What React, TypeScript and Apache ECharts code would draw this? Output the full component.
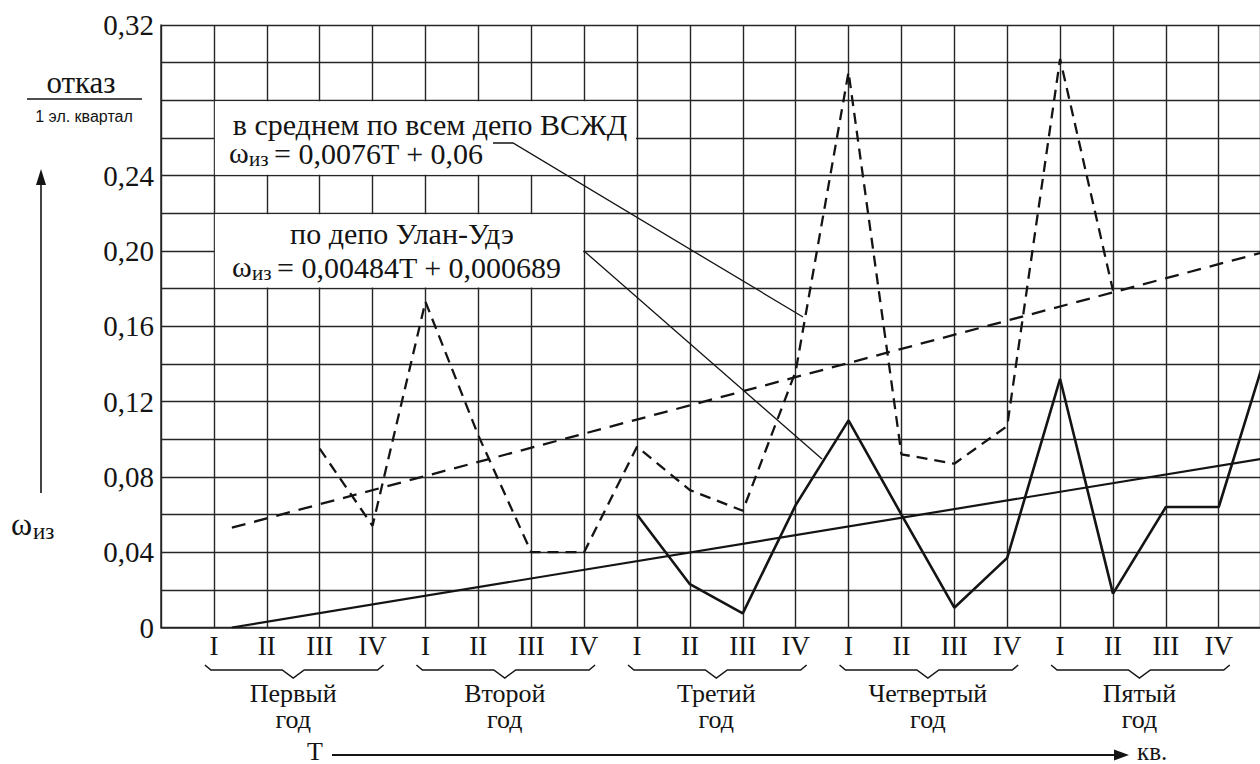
import React, { useEffect, useRef } from 'react';
import * as echarts from 'echarts';

// ---- tick labels / categories ----
const QUARTERS = ['I', 'II', 'III', 'IV'];
const YEARS = ['Первый', 'Второй', 'Третий', 'Четвертый', 'Пятый'];
const YEAR_WORD = 'год';
const Y_TICK_LABELS = [0, 0.04, 0.08, 0.12, 0.16, 0.2, 0.24, 0.32];

// ---- series: average over all VSZhD depots (dashed) ----
const VSZD_T = [3, 4, 5, 6, 7, 8, 9, 10, 11, 12, 13, 14, 15, 16, 17, 18];
const VSZD_VALUES = [0.095, 0.054, 0.173, 0.102, 0.04, 0.04, 0.096, 0.073, 0.062, 0.136, 0.295, 0.092, 0.087, 0.107, 0.302, 0.179];

// ---- series: Ulan-Ude depot (solid) ----
const UU_T = [9, 10, 11, 12, 13, 14, 15, 16, 17, 18, 19, 20, 21];
const UU_VALUES = [0.06, 0.023, 0.0075, 0.065, 0.11, 0.06, 0.0105, 0.037, 0.132, 0.018, 0.064, 0.064, 0.155];

// ---- trend lines ----
const VSZD_TREND_T = [1.34, 21];
const VSZD_TREND_VALUES = [0.053, 0.2005];
const UU_TREND_T = [1.34, 21];
const UU_TREND_VALUES = [0, 0.0905];

// ---- annotation texts ----
const NOTE1_LINE1 = 'в среднем по всем депо ВСЖД';
const NOTE1_EQ = '= 0,0076T + 0,06';
const NOTE2_LINE1 = 'по депо Улан-Удэ';
const NOTE2_EQ = '= 0,00484T + 0,000689';
const OMEGA = 'ω';
const SUB = 'из';
const Y_TITLE_TOP = 'отказ';
const Y_TITLE_BOTTOM = '1 эл. квартал';
const X_TITLE = 'T';
const X_UNIT = 'кв.';

// ---- layout ----
const W = 1260;
const H = 764;
const GRID_LEFT = 161;
const GRID_TOP = 25;
const GRID_BOTTOM_Y = 627.5;
const X_MAX = 20.78;
const Y_MAX = 0.32;

const SERIF = 'serif';
const SANS = 'sans-serif';
const INK = '#141414';

const px = (t: number) => GRID_LEFT + (t * (W - GRID_LEFT)) / X_MAX;
const py = (v: number) => GRID_BOTTOM_Y - (v * (GRID_BOTTOM_Y - GRID_TOP)) / Y_MAX;

const zip = (xs: number[], ys: number[]) => xs.map((x, i) => [x, ys[i]]);

function txt(text: string, x: number, y: number, size: number, align = 'left', family = SERIF): any {
  return {
    type: 'text',
    z: 110,
    style: {
      text,
      x,
      y: y - size * 0.5,
      fontSize: size,
      fontFamily: family,
      fill: INK,
      align,
    },
  };
}

function line(x1: number, y1: number, x2: number, y2: number, w = 1.4): any {
  return { type: 'line', z: 110, shape: { x1, y1, x2, y2 }, style: { stroke: INK, lineWidth: w } };
}

function poly(points: number[][], w = 1.4): any {
  return { type: 'polyline', z: 110, shape: { points }, style: { stroke: INK, lineWidth: w, fill: null } };
}

function buildGraphics(): any[] {
  const g: any[] = [];
  const box = (t1: number, t2: number, vTop: number, vBot: number) => ({
    type: 'rect',
    z: 100,
    shape: { x: px(t1) + 1, y: py(vTop) + 1, width: px(t2) - px(t1) - 2, height: py(vBot) - py(vTop) - 2 },
    style: { fill: '#ffffff' },
  });
  g.push(box(1, 9, 0.28, 0.24));
  g.push(box(1, 8, 0.22, 0.18));

  // note 1
  g.push(txt(NOTE1_LINE1, 430, 124, 30, 'center'));
  g.push(txt(OMEGA, 229, 152, 30));
  g.push(txt(SUB, 249, 159, 21));
  g.push(txt(NOTE1_EQ, 274, 153, 30));
  g.push(poly([[493, 143], [513, 143], [803, 317]], 1.3));

  // note 2
  g.push(txt(NOTE2_LINE1, 402, 233, 30, 'center'));
  g.push(txt(OMEGA, 232, 266, 30));
  g.push(txt(SUB, 252, 273, 21));
  g.push(txt(NOTE2_EQ, 277, 267, 30));
  g.push(poly([[584, 251], [822, 459]], 1.3));

  // y title
  g.push(txt(Y_TITLE_TOP, 81, 82, 31, 'center'));
  g.push(line(27, 99, 142, 99, 1.6));
  g.push(txt(Y_TITLE_BOTTOM, 84, 116, 16, 'center', SANS));
  g.push(line(41, 493, 41, 182, 1.6));
  g.push({ type: 'polygon', z: 110, shape: { points: [[41, 169], [36, 185], [46, 185]] }, style: { fill: INK } });
  g.push(txt(OMEGA, 11, 524, 32));
  g.push(txt(SUB, 33, 531, 23));

  // braces + year labels
  YEARS.forEach((name, i) => {
    const tA = i * 4 + 1;
    const tB = i * 4 + 4;
    const xa = px(tA) - 9;
    const xb = px(tB) + 11;
    const xc = (px(tA) + px(tB)) / 2;
    g.push(
      poly(
        [
          [xa, 665],
          [xa + 6, 670],
          [xc - 11, 670],
          [xc, 678],
          [xc + 11, 670],
          [xb - 6, 670],
          [xb, 665],
        ],
        1.5,
      ),
    );
    g.push(txt(name, xc, 693, 26, 'center'));
    g.push(txt(YEAR_WORD, xc, 719, 26, 'center'));
  });

  // T axis arrow
  g.push(txt(X_TITLE, 315, 751, 26, 'center'));
  g.push(line(332, 755, 1116, 755, 1.8));
  g.push({ type: 'polygon', z: 110, shape: { points: [[1129, 755], [1114, 749.5], [1114, 760.5]] }, style: { fill: INK } });
  g.push(txt(X_UNIT, 1137, 751, 25));
  return g;
}

export default function App() {
  const ref = useRef<HTMLDivElement>(null);
  useEffect(() => {
    if (!ref.current) return;
    const chart = echarts.init(ref.current, null, { renderer: 'svg' });
    const gridLine = { show: true, lineStyle: { color: '#262626', width: 1.4 } };
    chart.setOption({
      animation: false,
      grid: {
        left: GRID_LEFT,
        top: GRID_TOP,
        right: 0,
        bottom: H - GRID_BOTTOM_Y,
        containLabel: false,
        outerBoundsMode: 'none',
      },
      xAxis: {
        type: 'value',
        min: 0,
        max: X_MAX,
        interval: 1,
        axisLine: { show: true, lineStyle: { color: '#262626', width: 1.5 } },
        axisTick: { show: false },
        splitLine: gridLine,
        axisLabel: {
          margin: 5,
          fontFamily: SERIF,
          fontSize: 27,
          color: INK,
          formatter: (v: number) => {
            const t = Math.round(v);
            if (Math.abs(v - t) > 1e-6 || t < 1 || t > 20) return '';
            return QUARTERS[(t - 1) % 4];
          },
        },
      },
      yAxis: {
        type: 'value',
        min: 0,
        max: Y_MAX,
        interval: 0.02,
        axisLine: { show: true, lineStyle: { color: '#262626', width: 1.5 } },
        axisTick: { show: false },
        splitLine: gridLine,
        axisLabel: {
          margin: 7,
          fontFamily: SERIF,
          fontSize: 29,
          color: INK,
          formatter: (v: number) => {
            const hit = Y_TICK_LABELS.find((l) => Math.abs(l - v) < 1e-6);
            if (hit === undefined) return '';
            if (hit === 0) return '0';
            return hit.toFixed(2).replace('.', ',');
          },
        },
      },
      series: [
        {
          type: 'line',
          data: zip(UU_TREND_T, UU_TREND_VALUES),
          symbol: 'none',
          clip: true,
          z: 3,
          lineStyle: { color: INK, width: 2.2 },
        },
        {
          type: 'line',
          data: zip(VSZD_TREND_T, VSZD_TREND_VALUES),
          symbol: 'none',
          clip: true,
          z: 3,
          lineStyle: { color: INK, width: 2.3, type: [14, 9] },
        },
        {
          type: 'line',
          data: zip(VSZD_T, VSZD_VALUES),
          symbol: 'none',
          clip: true,
          z: 4,
          lineStyle: { color: INK, width: 2.3, type: [11, 7] },
        },
        {
          type: 'line',
          data: zip(UU_T, UU_VALUES),
          symbol: 'none',
          clip: true,
          z: 4,
          lineStyle: { color: INK, width: 2.6 },
        },
      ],
      graphic: buildGraphics(),
    });
    return () => chart.dispose();
  }, []);
  return (
    <div
      ref={ref}
      style={{ position: 'absolute', left: 0, top: 0, width: W, height: H }}
    />
  );
}
